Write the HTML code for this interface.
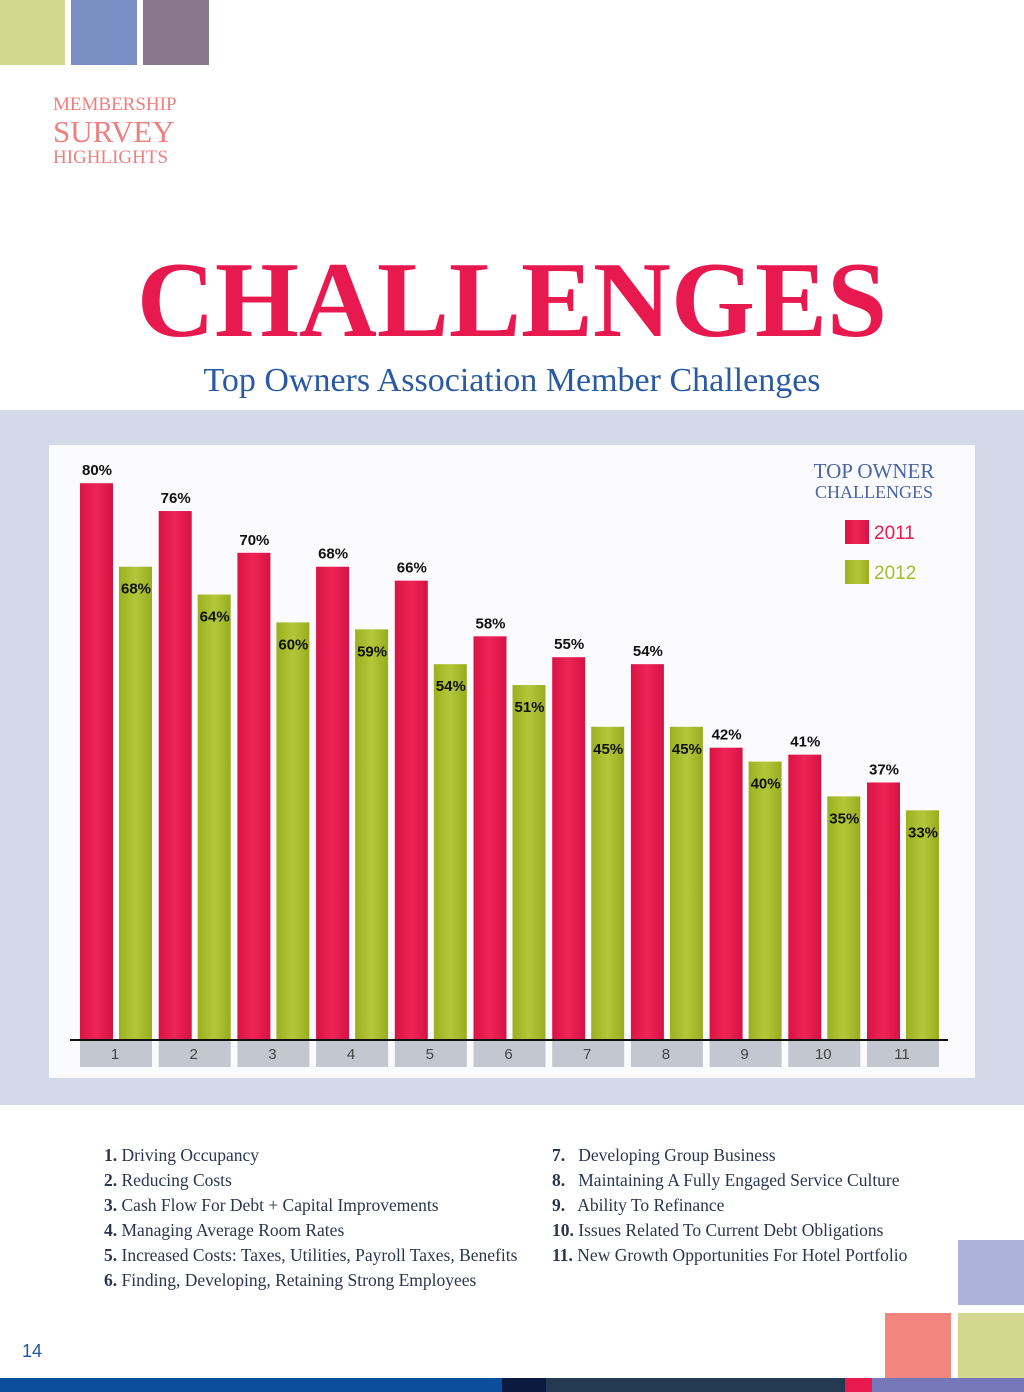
<!DOCTYPE html>
<html><head><meta charset="utf-8"><style>
body{margin:0;width:1024px;height:1392px;position:relative;background:#fff;overflow:hidden;font-family:"Liberation Serif",serif}
.a{position:absolute}
</style></head><body>
<div class="a" style="left:0;top:0;width:65px;height:65px;background:#d3d78f"></div>
<div class="a" style="left:71px;top:0;width:66px;height:65px;background:#7c8fc4"></div>
<div class="a" style="left:143px;top:0;width:66px;height:65px;background:#89758c"></div>
<div class="a" style="left:53px;top:95px;color:#ee7f7f;line-height:1">
<div style="font-size:19px">MEMBERSHIP</div><div style="font-size:31px;margin-top:2px">SURVEY</div><div style="font-size:19px;margin-top:1px">HIGHLIGHTS</div></div>
<div class="a" style="left:0;width:1024px;top:239px;text-align:center;font-size:108px;font-weight:bold;color:#e8194f;letter-spacing:0px">CHALLENGES</div>
<div class="a" style="left:0;width:1024px;top:362px;text-align:center;font-size:34px;color:#2a5aa2">Top Owners Association Member Challenges</div>
<div class="a" style="left:0;top:410px;width:1024px;height:695px;background:#d3d9e9"></div>
<div class="a" style="left:49px;top:445px;width:926px;height:633px;background:#fbfbfd"></div>
<svg class="a" style="left:0;top:0" width="1024" height="1392" id="chart">
<defs>
<linearGradient id="gr" x1="0" x2="1"><stop offset="0" stop-color="#d91445"/><stop offset=".5" stop-color="#ef2456"/><stop offset="1" stop-color="#d41244"/></linearGradient>
<linearGradient id="gg" x1="0" x2="1"><stop offset="0" stop-color="#9bb020"/><stop offset=".5" stop-color="#b3c73a"/><stop offset="1" stop-color="#98ad1e"/></linearGradient>
</defs>
<g id="bars"></g>
<line x1="70" y1="1040" x2="948" y2="1040" stroke="#111" stroke-width="2"/>
<text x="874" y="478" font-size="21" fill="#4a64a8" text-anchor="middle" font-family="Liberation Serif">TOP OWNER</text>
<text x="874" y="498" font-size="18" fill="#4a64a8" text-anchor="middle" font-family="Liberation Serif">CHALLENGES</text>
<rect x="845" y="520" width="24" height="24" fill="url(#gr)"/>
<text x="874" y="539" font-size="19" fill="#e8194f" font-family="Liberation Sans">2011</text>
<rect x="845" y="560" width="24" height="24" fill="url(#gg)"/>
<text x="874" y="579" font-size="19" fill="#a8bd2c" font-family="Liberation Sans">2012</text>
</svg>
<script>
const categories=["1","2","3","4","5","6","7","8","9","10","11"];
const values2011=[80,76,70,68,66,58,55,54,42,41,37];
const values2012=[68,64,60,59,54,51,45,45,40,35,33];
const NS="http://www.w3.org/2000/svg";
const g=document.getElementById('bars');
const y=v=>1040-v*6.96;
const x=i=>80+i*78.7;
function mk(t,a){const e=document.createElementNS(NS,t);for(const k in a)e.setAttribute(k,a[k]);g.appendChild(e);return e;}
categories.forEach((c,i)=>{
 const bx=mk('rect',{x:x(i),y:1041,width:72,height:26,fill:'#c3c7cf'});
 
 
 const t=mk('text',{x:x(i)+35,y:1059,'font-size':15,fill:'#444','text-anchor':'middle','font-family':'Liberation Sans'});t.textContent=c;
 
 
 const r=mk('rect',{x:x(i),y:y(values2011[i]),width:33,height:1040-y(values2011[i]),fill:'url(#gr)'});
 
 
 const gb=mk('rect',{x:x(i)+39,y:y(values2012[i]),width:33,height:1040-y(values2012[i]),fill:'url(#gg)'});
 
 
 const l1=mk('text',{x:x(i)+17,y:y(values2011[i])-8,'font-size':15,'font-weight':'bold',fill:'#111','text-anchor':'middle','font-family':'Liberation Sans'});l1.textContent=values2011[i]+'%';
 
 
 const l2=mk('text',{x:x(i)+56,y:y(values2012[i])+27,'font-size':15,'font-weight':'bold',fill:'#111','text-anchor':'middle','font-family':'Liberation Sans'});l2.textContent=values2012[i]+'%';
 
 
});
</script>
<div class="a" style="left:104px;top:1143px;font-size:17.5px;line-height:25px;color:#2a3550">
<div><b>1.</b> Driving Occupancy</div><div><b>2.</b> Reducing Costs</div><div><b>3.</b> Cash Flow For Debt + Capital Improvements</div><div><b>4.</b> Managing Average Room Rates</div><div><b>5.</b> Increased Costs: Taxes, Utilities, Payroll Taxes, Benefits</div><div><b>6.</b> Finding, Developing, Retaining Strong Employees</div></div>
<div class="a" style="left:552px;top:1143px;font-size:17.5px;line-height:25px;color:#2a3550">
<div><b>7.</b>&nbsp;&nbsp; Developing Group Business</div><div><b>8.</b>&nbsp;&nbsp; Maintaining A Fully Engaged Service Culture</div><div><b>9.</b>&nbsp;&nbsp; Ability To Refinance</div><div><b>10.</b> Issues Related To Current Debt Obligations</div><div><b>11.</b> New Growth Opportunities For Hotel Portfolio</div></div>
<div class="a" style="left:22px;top:1341px;font-size:18px;color:#1f56a0;font-family:'Liberation Sans',sans-serif">14</div>
<div class="a" style="left:958px;top:1240px;width:66px;height:65px;background:#adb2da"></div>
<div class="a" style="left:885px;top:1313px;width:66px;height:65px;background:#f2857c"></div>
<div class="a" style="left:958px;top:1313px;width:66px;height:65px;background:#d3d78f"></div>
<div class="a" style="left:0;top:1378px;width:1024px;height:14px;display:flex">
<div style="width:502px;background:#0c4e9b"></div><div style="width:44px;background:#0c1a40"></div><div style="width:299px;background:#243a52"></div><div style="width:27px;background:#e8194f"></div><div style="flex:1;background:#7478b8"></div></div>
</body></html>
